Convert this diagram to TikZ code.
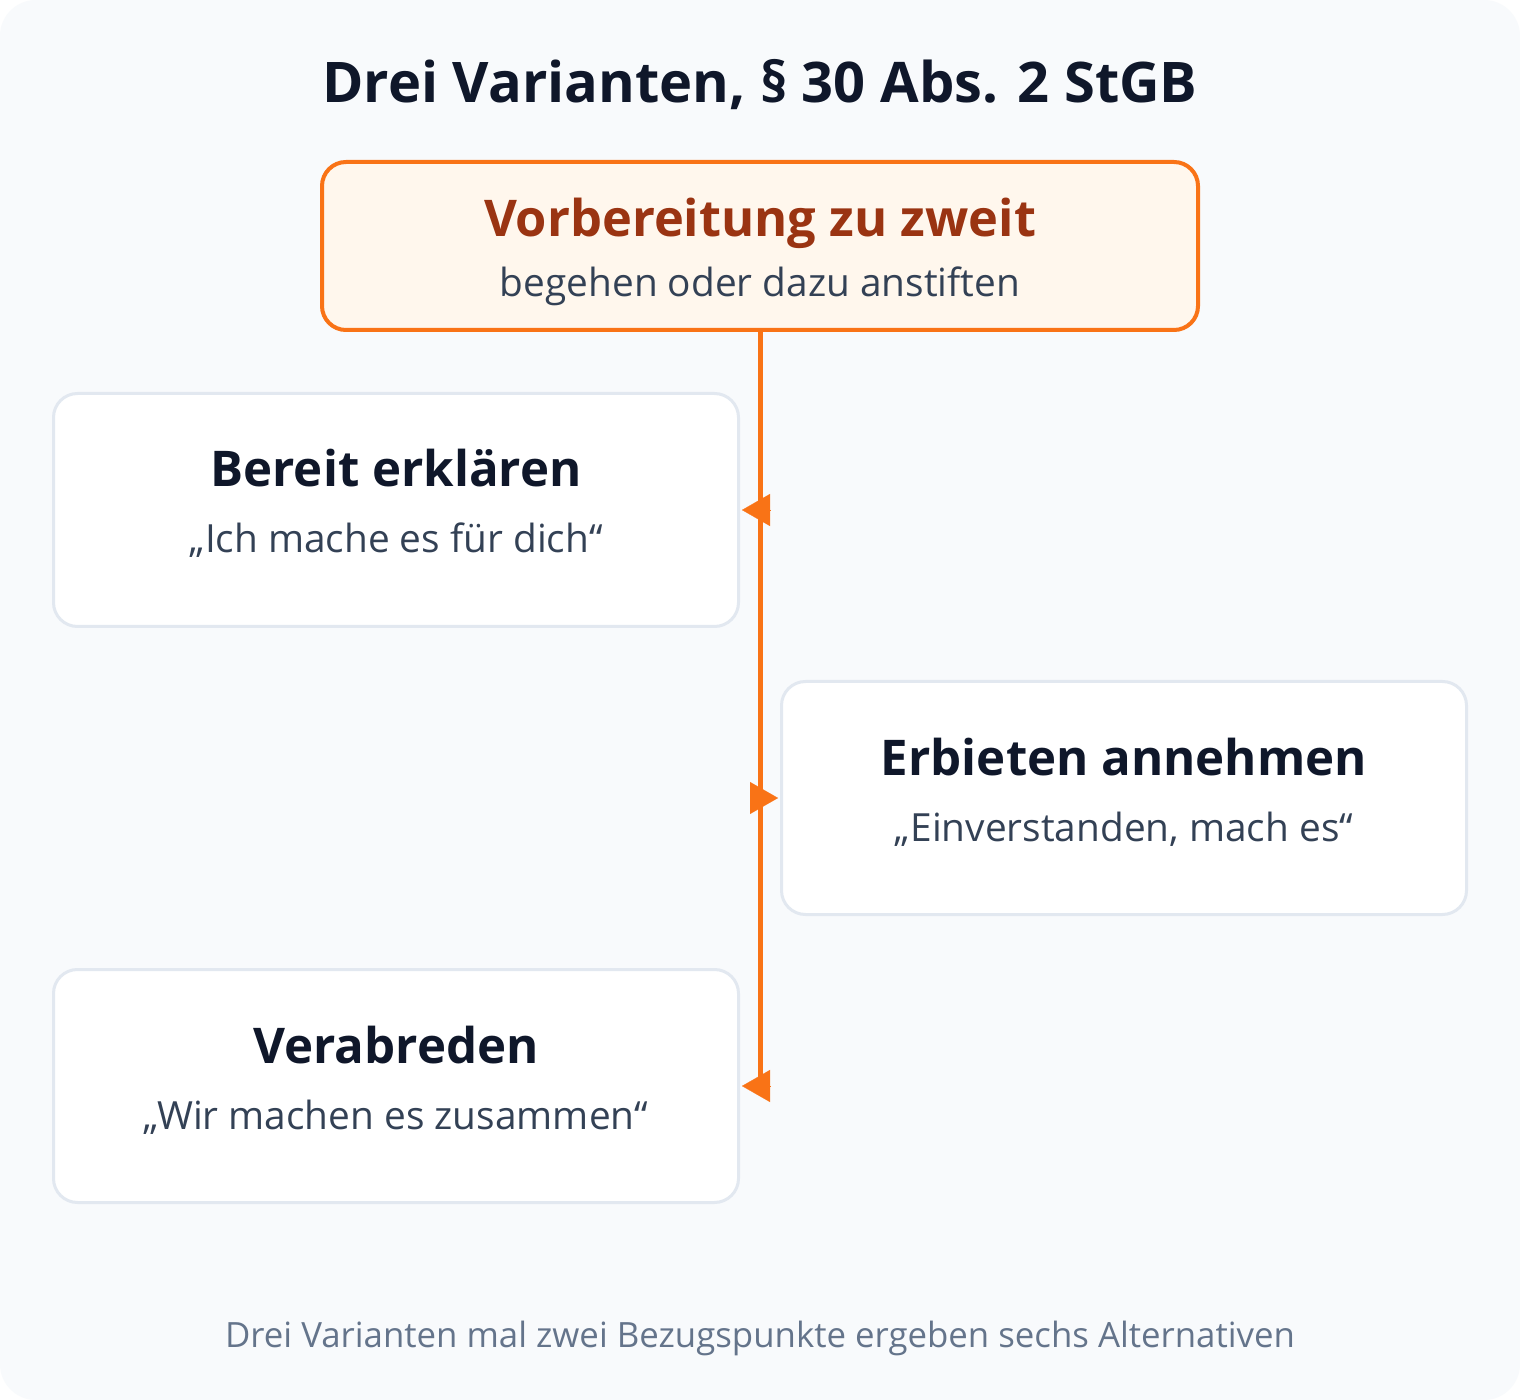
\documentclass[tikz,border=0pt]{standalone}
\usepackage{fontspec}
\setmainfont{Open Sans}
\usetikzlibrary{arrows.meta}
\definecolor{bgc}{HTML}{F8FAFC}
\definecolor{titlec}{HTML}{0F172A}
\definecolor{orangec}{HTML}{F97316}
\definecolor{orangefill}{HTML}{FFF7ED}
\definecolor{orangetext}{HTML}{9A3412}
\definecolor{subc}{HTML}{334155}
\definecolor{borderc}{HTML}{E2E8F0}
\definecolor{footc}{HTML}{64748B}
\tikzset{
  topbox/.style={draw=orangec, line width=2pt, fill=orangefill, rounded corners=12pt,
    minimum width=438pt, minimum height=84pt, inner sep=0pt},
  varbox/.style={draw=borderc, line width=1.5pt, fill=white, rounded corners=12pt,
    minimum width=342.5pt, minimum height=116.5pt, inner sep=0pt},
  headtxt/.style={anchor=base, text=titlec, font=\fontsize{24.6}{28}\selectfont\bfseries, inner sep=0pt},
  toptxt/.style={anchor=base, text=orangetext, font=\fontsize{25.3}{28}\selectfont\bfseries, inner sep=0pt},
  subtxt/.style={anchor=base, text=subc, font=\fontsize{19.4}{22}\selectfont, inner sep=0pt},
  trunk/.style={draw=orangec, line width=2.5pt},
  branch/.style={draw=orangec, fill=orangec, line width=0.1pt,
    -{Triangle[length=14pt,width=16pt]}, shorten >=1pt},
}
\begin{document}
\begin{tikzpicture}[x=0.5pt,y=-0.5pt]
\useasboundingbox (0,0) rectangle (1520,1400);
\fill[white] (0,0) rectangle (1520,1400);
\fill[bgc, rounded corners=18pt] (0,0) rectangle (1520,1400);

\node[anchor=base, text=titlec, font=\fontsize{28}{32}\selectfont\bfseries, inner sep=0pt] (title) at (760,103) {Drei Varianten, § 30 Abs. 2 StGB};

\node[topbox] (top) at (760,246) {};
\node[toptxt] (toph) at (760,237) {Vorbereitung zu zweit};
\node[subtxt] (tops) at (760,297) {begehen oder dazu anstiften};

\node[varbox] (b1) at (396,510) {};
\node[headtxt] (b1h) at (396,487) {Bereit erklären};
\node[subtxt] (b1s) at (396,553) {„Ich mache es für dich“};

\node[varbox] (b2) at (1124,798) {};
\node[headtxt] (b2h) at (1124,775) {Erbieten annehmen};
\node[subtxt] (b2s) at (1124,841) {„Einverstanden, mach es“};

\node[varbox] (b3) at (396,1086) {};
\node[headtxt] (b3h) at (396,1063) {Verabreden};
\node[subtxt] (b3s) at (396,1129) {„Wir machen es zusammen“};

\coordinate (trunkend) at (760,1086);
\coordinate (j1) at (770,510);
\coordinate (j2) at (750,798);
\coordinate (j3) at (770,1086);

\draw[trunk] (top.south) -- (trunkend);
\draw[branch] (j1) -- (b1.east);
\draw[branch] (j2) -- (b2.west);
\draw[branch] (j3) -- (b3.east);

\node[anchor=base, text=footc, font=\fontsize{17.4}{20}\selectfont, inner sep=0pt] (foot) at (760,1347) {Drei Varianten mal zwei Bezugspunkte ergeben sechs Alternativen};
\end{tikzpicture}
\end{document}
